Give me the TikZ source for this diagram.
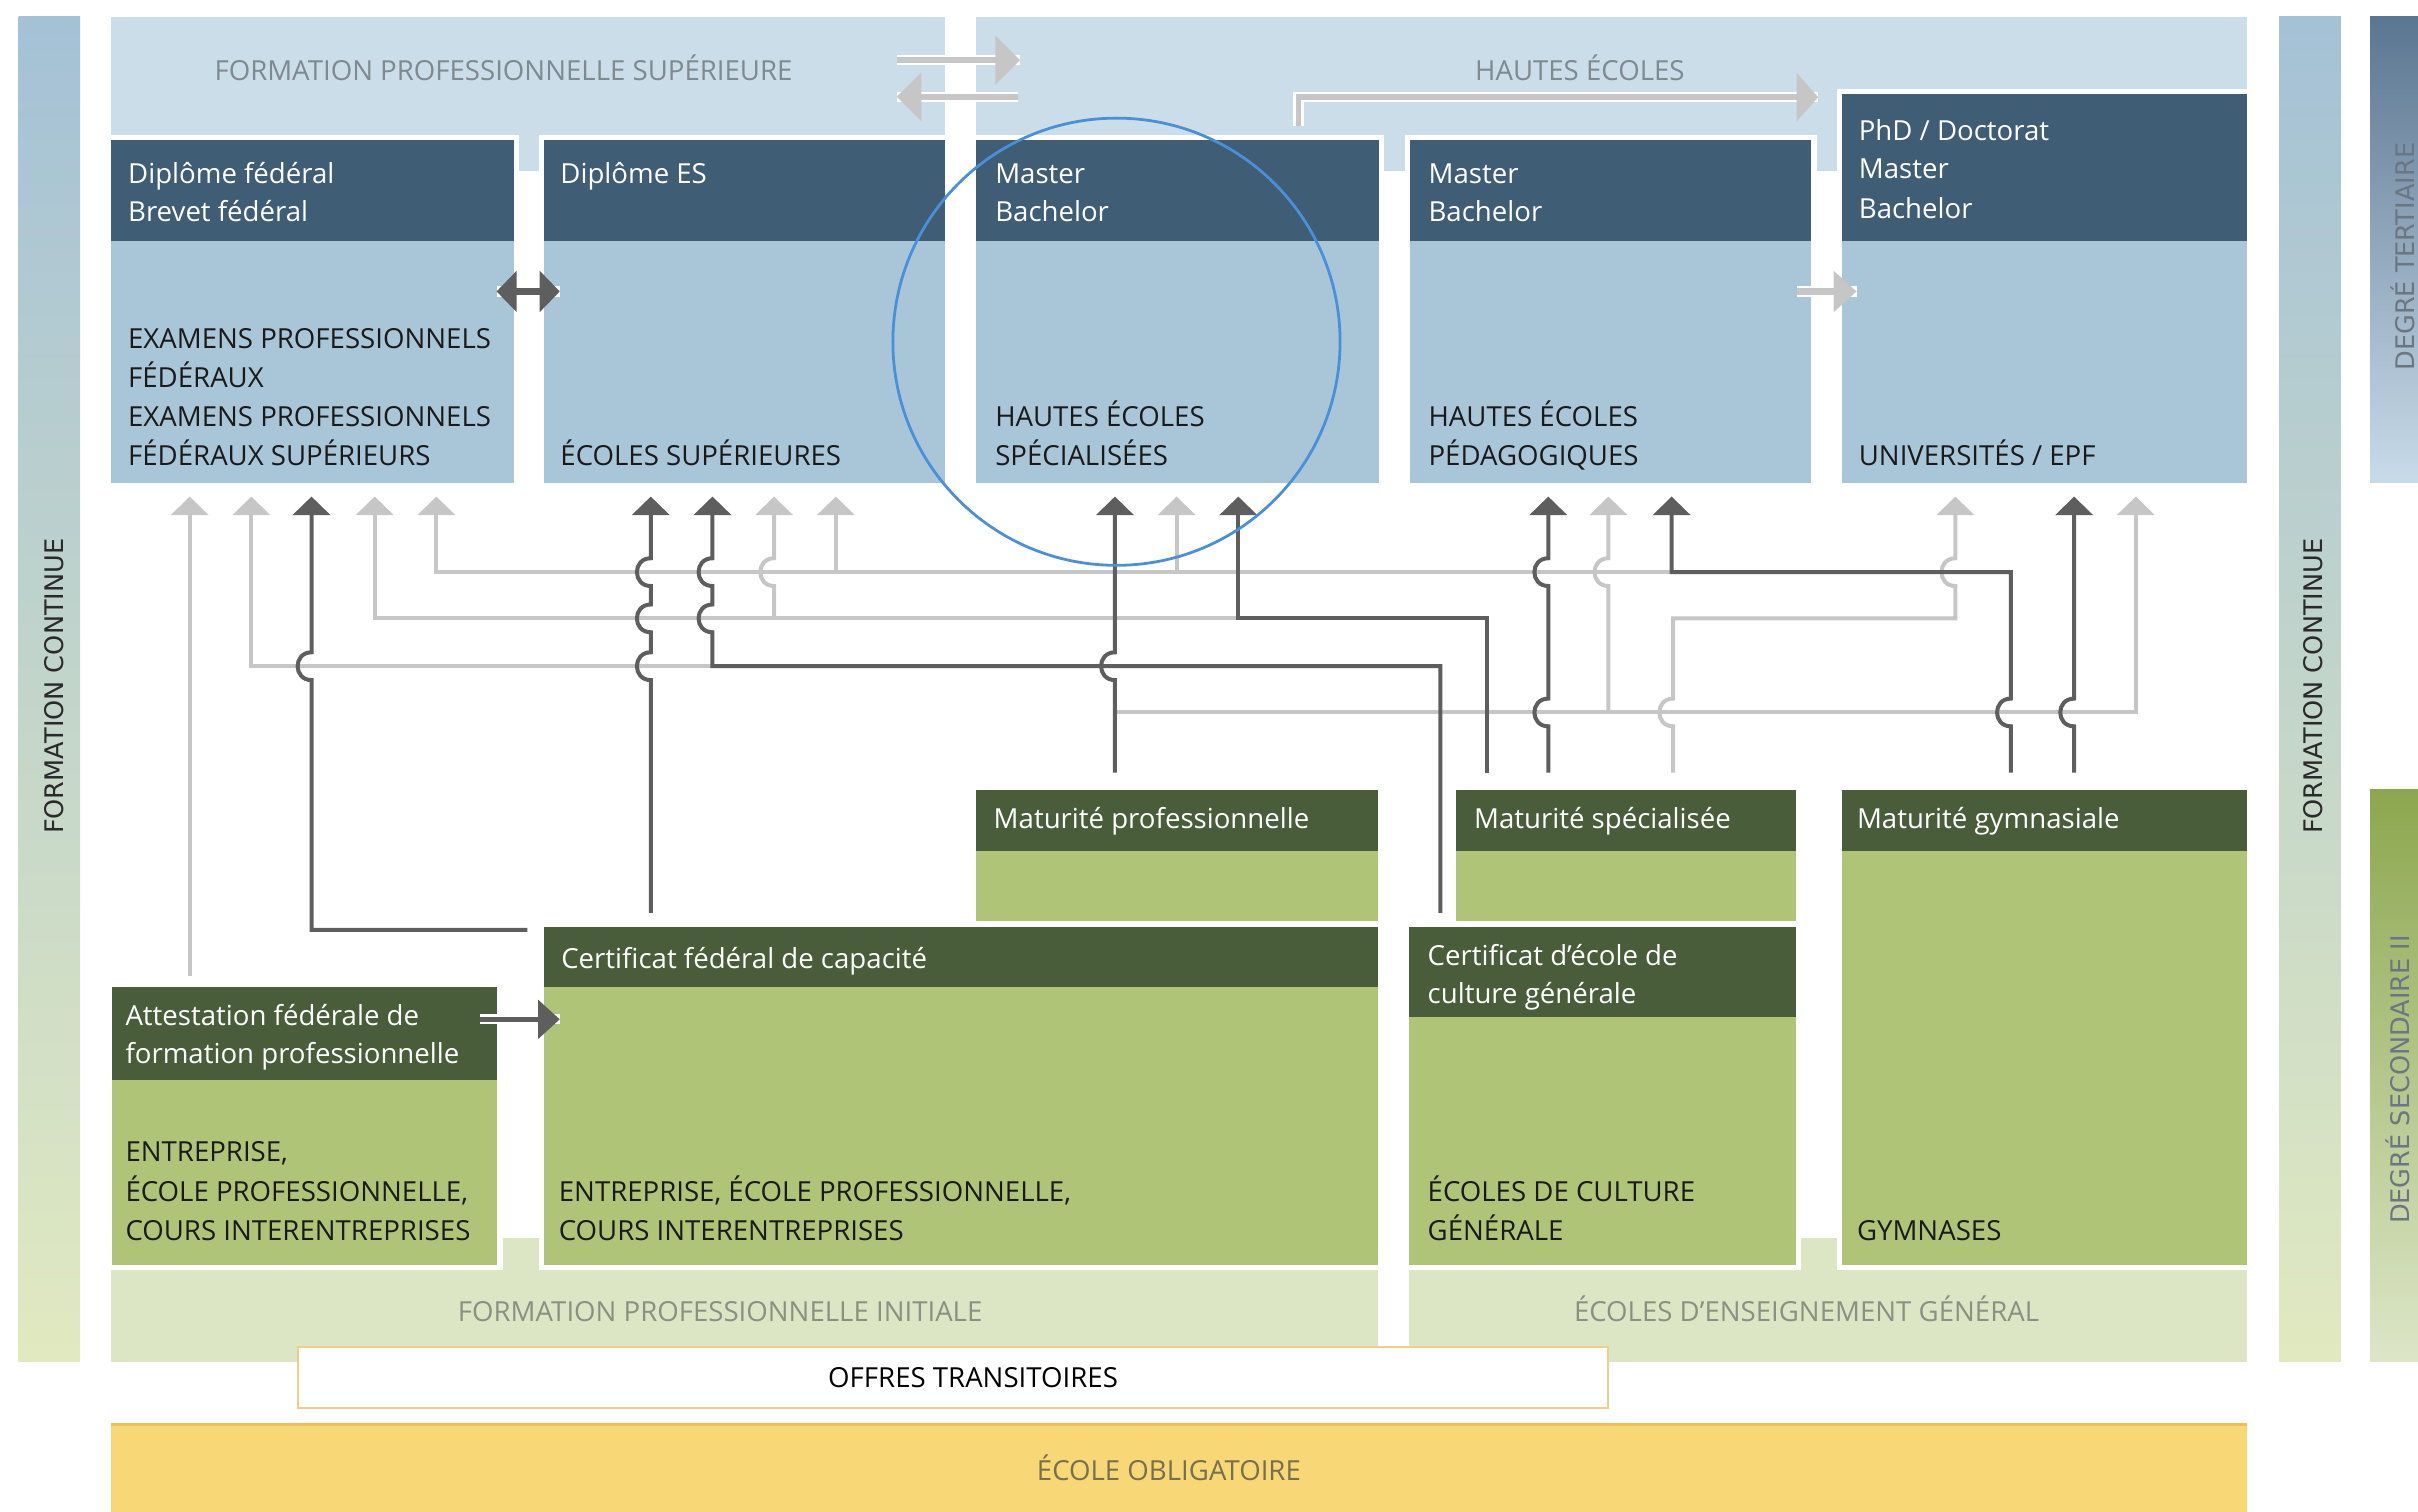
\documentclass[tikz,border=0pt]{standalone}
\usepackage{fontspec}
\setmainfont{Open Sans}
\newfontfamily\vfont{DejaVu Sans}
\usetikzlibrary{arrows.meta,fit}
\definecolor{hdrblue}{HTML}{405D76}
\definecolor{bodyblue}{HTML}{A9C5D8}
\definecolor{bandblue}{HTML}{CBDDE9}
\definecolor{hdrgreen}{HTML}{4A5D3A}
\definecolor{bodygreen}{HTML}{AFC477}
\definecolor{bandgreen}{HTML}{DDE6C4}
\definecolor{oblig}{HTML}{F8D776}
\definecolor{obligedge}{HTML}{F0BE55}
\definecolor{otedge}{HTML}{F3CD8C}
\definecolor{lgray}{HTML}{C6C6C6}
\definecolor{dgray}{HTML}{5E5E5E}
\definecolor{bandtext}{HTML}{7E8990}
\definecolor{bandgtext}{HTML}{8A9082}
\definecolor{obltext}{HTML}{77704F}
\definecolor{bodytext}{HTML}{1A1A1A}
\definecolor{circ}{HTML}{4A90D9}
\definecolor{fcTop}{HTML}{A4C1D6}
\definecolor{fcMid}{HTML}{C6D6CC}
\definecolor{fcBot}{HTML}{E1E9C0}
\definecolor{fctext}{HTML}{2A2A2A}
\definecolor{terTop}{HTML}{5B7691}
\definecolor{terMid}{HTML}{A9C0D4}
\definecolor{terBot}{HTML}{C9DBE9}
\definecolor{secTop}{HTML}{8CA74E}
\definecolor{secMid}{HTML}{BFD09A}
\definecolor{secBot}{HTML}{DDE6C8}
\definecolor{degtext}{HTML}{6A7682}
\newcommand\fsz{\fontsize{8.95}{10}\selectfont}
\newcommand\vsz{\fontsize{8.3}{10}\selectfont}
\newcommand\whtext[4]{\node[wtxt] (#1) at (#2,#3) {#4};}
\newcommand\blktext[4]{\node[btxt] (#1) at (#2,#3) {#4};}
\begin{document}
\begin{tikzpicture}[x=0.5pt,y=-0.5pt,
  area/.style={fit={#1},inner sep=0pt,outer sep=0pt},
  halo/.style={preaction={draw=white,line width=3.5pt}},
  wtxt/.style={anchor=base west,inner sep=0pt,text=white,font=\fsz},
  btxt/.style={anchor=base west,inner sep=0pt,text=bodytext,font=\fsz},
  gtxt/.style={anchor=base,inner sep=0pt,font=\fsz},
  vtxt/.style={rotate=90,inner sep=0pt,font=\vfont\vsz},
  conn/.style={line width=1.3pt,-{Triangle[length=6pt,width=12pt]}},
  lconn/.style={conn,draw=lgray},
  dconn/.style={conn,draw=dgray},
  hop/.style 2 args={insert path={-- (#1,#2+9) .. controls (#1-12,#2+9) and (#1-12,#2-9) .. (#1,#2-9)}},
  bigarrow/.style={preaction={draw=white,line width=3.3pt,arrows=-}},
]
\useasboundingbox (0,0) rectangle (1568,980);

% side bars
\shade[top color=fcTop,middle color=fcMid,bottom color=fcBot] (12,11) rectangle (52,883);
\node[vtxt,text=fctext] (fcL) at (35,445) {FORMATION CONTINUE};
\shade[top color=fcTop,middle color=fcMid,bottom color=fcBot] (1478,11) rectangle (1518,883);
\node[vtxt,text=fctext] (fcR) at (1500,445) {FORMATION CONTINUE};
\shade[top color=terTop,middle color=terMid,bottom color=terBot] (1537,11) rectangle (1569,313);
\node[vtxt,text=degtext] (terL) at (1558,166.5) {DEGRÉ TERTIAIRE};
\shade[top color=secTop,middle color=secMid,bottom color=secBot] (1537,512) rectangle (1569,883);
\node[vtxt,text=degtext] (secL) at (1555,700) {DEGRÉ SECONDAIRE II};

% bands
\node[area={(72,11)(613,111)},fill=bandblue] (fpsband) {};
\node[area={(633,11)(1457,111)},fill=bandblue] (heband) {};
\node[gtxt,text=bandtext] (fpsT) at (326.5,52) {FORMATION PROFESSIONNELLE SUPÉRIEURE};
\node[gtxt,text=bandtext] (heT) at (1024.5,52) {HAUTES ÉCOLES};
\node[area={(72,803)(893.5,883)},fill=bandgreen] (fpiband) {};
\node[area={(914,803)(1457,883)},fill=bandgreen] (eegband) {};

% tertiary boxes
\node[area={(72,91)(333,313.5)},fill=bodyblue,halo] (fed) {};
\node[area={(72,91)(333,156)},fill=hdrblue] (fedh) {};
\node[area={(353,91)(613,313.5)},fill=bodyblue,halo] (es) {};
\node[area={(353,91)(613,156)},fill=hdrblue] (esh) {};
\node[area={(633,91)(894,313.5)},fill=bodyblue,halo] (hes) {};
\node[area={(633,91)(894,156)},fill=hdrblue] (hesh) {};
\node[area={(914.6,91)(1174.6,313.5)},fill=bodyblue,halo] (hep) {};
\node[area={(914.6,91)(1174.6,156)},fill=hdrblue] (heph) {};
\node[area={(1194.6,61)(1457,313.5)},fill=bodyblue,halo] (uni) {};
\node[area={(1194.6,61)(1457,156)},fill=hdrblue] (unih) {};

\whtext{fed1}{82.7}{119}{Diplôme fédéral}
\whtext{fed2}{82.7}{143.8}{Brevet fédéral}
\blktext{fed3}{82.7}{226}{EXAMENS PROFESSIONNELS}
\blktext{fed4}{82.7}{251.4}{FÉDÉRAUX}
\blktext{fed5}{82.7}{276.7}{EXAMENS PROFESSIONNELS}
\blktext{fed6}{82.7}{302}{FÉDÉRAUX SUPÉRIEURS}
\whtext{es1}{363}{119}{Diplôme ES}
\blktext{es2}{363}{302}{ÉCOLES SUPÉRIEURES}
\whtext{hes1}{645}{119}{Master}
\whtext{hes2}{645}{143.8}{Bachelor}
\blktext{hes3}{645}{276.5}{HAUTES ÉCOLES}
\blktext{hes4}{645}{301.8}{SPÉCIALISÉES}
\whtext{hep1}{926}{119}{Master}
\whtext{hep2}{926}{143.8}{Bachelor}
\blktext{hep3}{926}{276.5}{HAUTES ÉCOLES}
\blktext{hep4}{926}{301.8}{PÉDAGOGIQUES}
\whtext{uni1}{1205}{90.8}{PhD / Doctorat}
\whtext{uni2}{1205}{116}{Master}
\whtext{uni3}{1205}{141.5}{Bachelor}
\blktext{uni4}{1205}{302}{UNIVERSITÉS / EPF}

% secondary boxes
\node[area={(633,512)(893.5,600)},fill=bodygreen,halo] (mpro) {};
\node[area={(633,512)(893.5,552)},fill=hdrgreen] (mproh) {};
\node[area={(944,512)(1164.4,600)},fill=bodygreen,halo] (mspe) {};
\node[area={(944,512)(1164.4,552)},fill=hdrgreen] (mspeh) {};
\node[area={(72.4,640)(322.5,820)},fill=bodygreen,halo] (afp) {};
\node[area={(72.4,640)(322.5,700.4)},fill=hdrgreen] (afph) {};
\node[area={(353,601)(893.5,820)},fill=bodygreen,halo] (cfc) {};
\node[area={(353,601)(893.5,640)},fill=hdrgreen] (cfch) {};
\node[area={(914,601)(1164.4,820)},fill=bodygreen,halo] (cecg) {};
\node[area={(914,601)(1164.4,659.3)},fill=hdrgreen] (cecgh) {};
\node[area={(1194.5,512)(1457,820)},fill=bodygreen,halo] (gym) {};
\node[area={(1194.5,512)(1457,552)},fill=hdrgreen] (gymh) {};

\whtext{mpro1}{644}{537}{Maturité professionnelle}
\whtext{mspe1}{955.5}{537}{Maturité spécialisée}
\whtext{gym1}{1203.8}{537}{Maturité gymnasiale}
\blktext{gym2}{1203.8}{804.2}{GYMNASES}
\whtext{afp1}{81}{664.7}{Attestation fédérale de}
\whtext{afp2}{81}{689.6}{formation professionnelle}
\blktext{afp3}{81}{753.4}{ENTREPRISE,}
\blktext{afp4}{81}{779.3}{ÉCOLE PROFESSIONNELLE,}
\blktext{afp5}{81}{804.2}{COURS INTERENTREPRISES}
\whtext{cfc1}{363.6}{627.8}{Certificat fédéral de capacité}
\blktext{cfc2}{362}{779.3}{ENTREPRISE, ÉCOLE PROFESSIONNELLE,}
\blktext{cfc3}{362}{804.2}{COURS INTERENTREPRISES}
\whtext{cecg1}{925.4}{625.8}{Certificat d'école de}
\whtext{cecg2}{925.4}{650.7}{culture générale}
\blktext{cecg3}{925.4}{779.3}{ÉCOLES DE CULTURE}
\blktext{cecg4}{925.4}{804.2}{GÉNÉRALE}

\node[gtxt,text=bandgtext] (fpiT) at (467,857) {FORMATION PROFESSIONNELLE INITIALE};
\node[gtxt,text=bandgtext] (eegT) at (1171.5,857) {ÉCOLES D’ENSEIGNEMENT GÉNÉRAL};

% transitional and compulsory
\node[area={(193,873.3)(1043,913)},fill=white,draw=otedge,line width=0.6pt] (ot) {};
\node[gtxt,text=black] (otT) at (631,899.7) {OFFRES TRANSITOIRES};
\node[area={(72,923.5)(1457,982)},fill=oblig] (obl) {};
\draw[obligedge,line width=1pt] (obl.north west) -- (obl.north east);
\node[gtxt,text=obltext] (oblT) at (758,959.8) {ÉCOLE OBLIGATOIRE};

% connectors: light
\draw[lconn] (123,633) -- (123,322);
\draw[lconn] (462,432) -- (163,432) -- (163,322);
\draw[lconn] (803,401) -- (243,401) -- (243,322);
\draw[lconn] (502,401) [hop={502}{371}] -- (502,322);
\draw[lconn] (1084,371) -- (283,371) -- (283,322);
\draw[lconn] (542,371) -- (542,322);
\draw[lconn] (763,371) -- (763,322);
\draw[lconn] (723,462) -- (1385,462) -- (1385,322);
\draw[lconn] (1043,462) [hop={1043}{371}] -- (1043,322);
\draw[lconn] (1085,501) [hop={1085}{462}] -- (1085,401) -- (1268,401) [hop={1268}{371}] -- (1268,322);
% connectors: dark
\draw[dconn] (342,603) -- (202,603) [hop={202}{432}] -- (202,322);
\draw[dconn] (422,592) [hop={422}{432}] [hop={422}{401}] [hop={422}{371}] -- (422,322);
\draw[dconn] (934,592) -- (934,432) -- (462,432) [hop={462}{401}] [hop={462}{371}] -- (462,322);
\draw[dconn] (723,501) [hop={723}{432}] -- (723,322);
\draw[dconn] (964,501) -- (964,401) -- (803,401) -- (803,322);
\draw[dconn] (1304,501) [hop={1304}{462}] -- (1304,371) -- (1084,371) -- (1084,322);
\draw[dconn] (1004,501) [hop={1004}{462}] [hop={1004}{371}] -- (1004,322);
\draw[dconn] (1345,501) [hop={1345}{462}] -- (1345,322);

% thick arrows
\coordinate (dA) at (322,189); \coordinate (dB) at (363,189);
\draw[bigarrow,draw=dgray,line width=2pt,{Triangle[length=6.5pt,width=13pt]}-{Triangle[length=6.5pt,width=13pt]}] (dA) -- (dB);
\coordinate (uA) at (1165,189); \coordinate (uB) at (1204,189);
\draw[bigarrow,draw=lgray,line width=2pt,-{Triangle[length=7.5pt,width=13pt]}] (uA) -- (uB);
\coordinate (aA) at (311,661); \coordinate (aB) at (363,661);
\draw[bigarrow,draw=dgray,line width=1.7pt,-{Triangle[length=7pt,width=12.3pt]}] (aA) -- (aB);
\coordinate (tA) at (581.5,39); \coordinate (tB) at (661.5,39);
\draw[bigarrow,draw=lgray,line width=1.9pt,-{Triangle[length=8pt,width=15.5pt]}] (tA) -- (tB);
\coordinate (sA) at (660,62.7); \coordinate (sB) at (581.5,62.7);
\draw[bigarrow,draw=lgray,line width=1.9pt,-{Triangle[length=8pt,width=15.5pt]}] (sA) -- (sB);
\coordinate (bA) at (842,82); \coordinate (bB) at (1179,63);
\draw[bigarrow,draw=lgray,line width=1.9pt,-{Triangle[length=7pt,width=15.5pt]}] (bA) |- (bB);

% highlight circle
\node[circle,draw=circ,line width=0.9pt,minimum size=145pt,inner sep=0pt] (focus) at (724,221.6) {};
\end{tikzpicture}
\end{document}
